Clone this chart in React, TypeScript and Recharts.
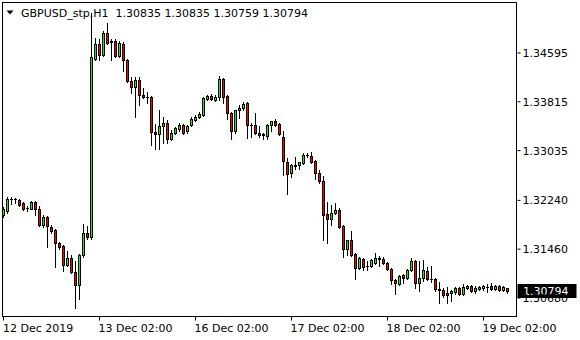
import React from "react";
import { ComposedChart, Bar, XAxis, YAxis, ReferenceLine } from "recharts";

const symbol = "GBPUSD_stp,H1";

// hourly candles
const open = [
  1.32006, 1.3207, 1.32266, 1.32258, 1.32246, 1.32198, 1.32118, 1.32102, 1.32214, 1.32102,
  1.31846, 1.31974, 1.31814, 1.31767, 1.31559, 1.31511, 1.31207, 1.31319, 1.31095, 1.30888,
  1.31367, 1.31719, 1.31655, 1.34499, 1.34739, 1.34563, 1.34915, 1.34787, 1.34787, 1.34547,
  1.34739, 1.34483, 1.34148, 1.34052, 1.34164, 1.33924, 1.33892, 1.33892, 1.33333, 1.33301,
  1.33428, 1.33476, 1.33221, 1.33317, 1.33381, 1.33444, 1.33349, 1.33444, 1.33524, 1.33572,
  1.33604, 1.3386, 1.33908, 1.33844, 1.33892, 1.3418, 1.33908, 1.33636, 1.33349, 1.33684,
  1.33716, 1.33796, 1.33452, 1.33444, 1.33317, 1.33293, 1.33269, 1.33444, 1.33508, 1.3346,
  1.33253, 1.32853, 1.32677, 1.32797, 1.32805, 1.32837, 1.32965, 1.32949, 1.32869, 1.32677,
  1.3255, 1.32022, 1.31942, 1.32038, 1.32086, 1.3183, 1.31463, 1.31607, 1.31383, 1.31159,
  1.31303, 1.31199, 1.31199, 1.31239, 1.31311, 1.31303, 1.31239, 1.31143, 1.30968, 1.30904,
  1.31047, 1.30999, 1.31127, 1.31271, 1.3092, 1.31007, 1.31111, 1.30984, 1.30991, 1.30816,
  1.30808, 1.3076, 1.3076, 1.30776, 1.3084, 1.30744, 1.3084, 1.30872, 1.30792, 1.30824,
  1.30832, 1.30856, 1.30872, 1.30824, 1.30864, 1.30808, 1.30835,
];
const high = [
  1.32134, 1.32294, 1.32294, 1.32278, 1.32262, 1.32214, 1.3215, 1.3223, 1.3223, 1.3215,
  1.32006, 1.3199, 1.31846, 1.31783, 1.31575, 1.31527, 1.31431, 1.31367, 1.31271, 1.31383,
  1.31862, 1.3183, 1.35234, 1.34835, 1.34819, 1.34947, 1.35074, 1.34819, 1.34819, 1.34787,
  1.34771, 1.34499, 1.34212, 1.34212, 1.34212, 1.34036, 1.33972, 1.33908, 1.3346, 1.33684,
  1.33572, 1.33524, 1.33365, 1.33412, 1.33476, 1.3346, 1.33444, 1.33572, 1.33604, 1.33652,
  1.33892, 1.33924, 1.3394, 1.33924, 1.34228, 1.34196, 1.33924, 1.33652, 1.33684, 1.33764,
  1.33812, 1.33812, 1.33476, 1.33636, 1.33428, 1.33317, 1.3346, 1.33508, 1.3354, 1.33476,
  1.33349, 1.32917, 1.32821, 1.32933, 1.32853, 1.32997, 1.32997, 1.33013, 1.32885, 1.32725,
  1.3263, 1.32214, 1.32166, 1.32198, 1.32118, 1.31846, 1.31607, 1.31751, 1.31399, 1.31335,
  1.31319, 1.31271, 1.31303, 1.31399, 1.31351, 1.31335, 1.31255, 1.31159, 1.30984, 1.31047,
  1.31063, 1.31143, 1.31311, 1.31287, 1.31271, 1.31287, 1.31175, 1.31191, 1.30999, 1.30936,
  1.3084, 1.30856, 1.30808, 1.30856, 1.30856, 1.30904, 1.30888, 1.30888, 1.30872, 1.30872,
  1.30888, 1.30904, 1.3092, 1.30888, 1.30888, 1.30872, 1.30835,
];
const low = [
  1.31974, 1.32038, 1.32182, 1.32198, 1.3215, 1.32086, 1.3207, 1.32094, 1.32006, 1.3183,
  1.31814, 1.31495, 1.31719, 1.31176, 1.31463, 1.31111, 1.31191, 1.31079, 1.3052, 1.30664,
  1.31335, 1.31623, 1.31623, 1.34483, 1.34483, 1.34547, 1.34739, 1.34483, 1.34531, 1.34531,
  1.34307, 1.34132, 1.33956, 1.33572, 1.33764, 1.33876, 1.33796, 1.33125, 1.33061, 1.33061,
  1.33157, 1.33157, 1.33205, 1.33301, 1.33349, 1.33301, 1.33317, 1.33428, 1.33508, 1.33556,
  1.33588, 1.33844, 1.33844, 1.33828, 1.33844, 1.33796, 1.3354, 1.33221, 1.33317, 1.33556,
  1.33684, 1.33237, 1.33253, 1.33301, 1.33253, 1.33221, 1.33221, 1.33349, 1.33428, 1.33285,
  1.32646, 1.32342, 1.32614, 1.32741, 1.32741, 1.32821, 1.32933, 1.32837, 1.32582, 1.32518,
  1.31607, 1.31559, 1.31846, 1.32022, 1.31798, 1.31335, 1.31367, 1.31351, 1.30984, 1.31143,
  1.31127, 1.31127, 1.31183, 1.31223, 1.31191, 1.31223, 1.31127, 1.30904, 1.30744, 1.30888,
  1.3092, 1.30984, 1.31111, 1.30832, 1.30786, 1.30952, 1.30968, 1.30936, 1.30792, 1.306,
  1.30696, 1.306, 1.30632, 1.30744, 1.30728, 1.30728, 1.30824, 1.30776, 1.3076, 1.30808,
  1.30808, 1.30776, 1.30808, 1.30808, 1.30792, 1.30792, 1.30759,
];
const close = [
  1.32102, 1.32262, 1.32262, 1.32262, 1.32166, 1.32102, 1.3211, 1.32214, 1.32102, 1.31846,
  1.31974, 1.3183, 1.3175, 1.31559, 1.31495, 1.31207, 1.31319, 1.31095, 1.30888, 1.31367,
  1.31719, 1.31655, 1.34531, 1.34739, 1.34563, 1.34915, 1.34755, 1.34771, 1.34547, 1.34755,
  1.34483, 1.34148, 1.34052, 1.34164, 1.33924, 1.33892, 1.33884, 1.33333, 1.33301, 1.33428,
  1.33476, 1.33221, 1.33317, 1.33397, 1.33444, 1.33317, 1.33428, 1.3354, 1.33572, 1.3362,
  1.33876, 1.33908, 1.3386, 1.33892, 1.3418, 1.33892, 1.33636, 1.33349, 1.33684, 1.33716,
  1.3378, 1.33444, 1.33444, 1.33317, 1.33285, 1.33285, 1.33444, 1.33508, 1.33444, 1.33301,
  1.32869, 1.32661, 1.32805, 1.32805, 1.32853, 1.32965, 1.32957, 1.32853, 1.32677, 1.3255,
  1.32006, 1.31942, 1.32038, 1.32086, 1.31814, 1.31463, 1.31607, 1.31367, 1.31159, 1.31319,
  1.31175, 1.31191, 1.31287, 1.31311, 1.31303, 1.31231, 1.31143, 1.30968, 1.30912, 1.31031,
  1.30999, 1.31127, 1.31271, 1.3092, 1.31007, 1.31127, 1.30984, 1.30991, 1.30816, 1.30808,
  1.3072, 1.3072, 1.30792, 1.3084, 1.30744, 1.30861, 1.30872, 1.30792, 1.30832, 1.30856,
  1.30864, 1.3085, 1.30824, 1.30872, 1.30808, 1.30856, 1.30794,
];

const priceTicks = [1.3068, 1.3146, 1.3224, 1.33035, 1.33815, 1.34595];
const dateTickBars = [0, 24, 48, 72, 96, 120];
const dateTickLabels = ["12 Dec 2019", "13 Dec 02:00", "16 Dec 02:00", "17 Dec 02:00", "18 Dec 02:00", "19 Dec 02:00"];

const candles = open.map((o, i) => ({ i, o, h: high[i], l: low[i], c: close[i] }));
const last = candles[candles.length - 1];

const BULL = "#00ff00";
const BEAR = "#ff0000";
const FONT = "'DejaVu Sans', Verdana, sans-serif";
const W = 580;
const H = 340;

const Candle = (props: any) => {
  const { x, y, width, height, payload } = props;
  if (!payload || height == null) return null;
  const cx = Math.floor(x + width / 2) + 0.5;
  const range = payload.h - payload.l || 1;
  const py = (p: number) => y + ((payload.h - p) / range) * height;
  const top = Math.round(py(Math.max(payload.o, payload.c)));
  const bot = Math.round(py(Math.min(payload.o, payload.c)));
  const up = payload.c > payload.o;
  return (
    <g>
      <line x1={cx} x2={cx} y1={Math.round(y)} y2={Math.round(y + height) + 1} stroke="#000" />
      {bot - top < 1 ? (
        <line x1={cx - 1.5} x2={cx + 1.5} y1={top + 0.5} y2={top + 0.5} stroke="#000" />
      ) : (
        <rect x={cx - 1} y={top + 0.5} width={2} height={bot - top} fill={up ? BULL : BEAR} stroke="#000" />
      )}
    </g>
  );
};

const DateTick = (props: any) => {
  const { x, y, payload } = props;
  const k = dateTickBars.indexOf(payload.value);
  if (k < 0) return <g />;
  return (
    <text x={Math.max(x - 1, 3)} y={y + 9} fontFamily={FONT} fontSize={11} fill="#000">
      {dateTickLabels[k]}
    </text>
  );
};

const PriceTick = (props: any) => {
  const { x, y, payload } = props;
  return (
    <text x={x} y={y + 4} fontFamily={FONT} fontSize={11} fill="#000">
      {Number(payload.value).toFixed(5)}
    </text>
  );
};

const PriceTag = (props: any) => {
  const vb = props.viewBox;
  if (!vb) return null;
  const x0 = vb.x + vb.width;
  const cy = Math.round(vb.y);
  return (
    <g>
      <rect x={x0} y={cy - 7} width={59} height={14} fill="#000" />
      <text x={x0 + 5.5} y={cy + 4} fontFamily={FONT} fontSize={11} fill="#fff">
        {last.c.toFixed(5)}
      </text>
    </g>
  );
};

export default function App() {
  return (
    <div style={{ position: "absolute", left: 0, top: 0, width: W, height: H, background: "#fff" }}>
      <ComposedChart
        width={W}
        height={H}
        data={candles}
        margin={{ top: 2.5, right: 0, bottom: 0, left: 1.5 }}
        barCategoryGap={0}
      >
        <XAxis
          dataKey="i"
          type="category"
          ticks={dateTickBars}
          interval={0}
          height={23.5}
          padding={{ left: 0, right: 8 }}
          axisLine={false}
          tickLine={{ stroke: "#000" }}
          tickSize={4}
          tick={<DateTick />}
        />
        <YAxis
          orientation="right"
          type="number"
          domain={[1.30384, 1.35402]}
          allowDataOverflow
          ticks={priceTicks}
          interval={0}
          width={62.5}
          axisLine={false}
          tickLine={{ stroke: "#000" }}
          tickSize={3}
          tick={<PriceTick />}
        />
        <Bar
          dataKey={(d: any) => [d.l, d.h]}
          shape={<Candle />}
          isAnimationActive={false}
        />
        <ReferenceLine y={last.c} stroke="none" label={<PriceTag />} />
      </ComposedChart>
      <div
        style={{
          position: "absolute",
          left: 2,
          top: 2,
          width: 515,
          height: 315,
          boxSizing: "border-box",
          border: "1px solid #000",
          pointerEvents: "none",
        }}
      />
      <svg width={W} height={24} style={{ position: "absolute", left: 0, top: 0, pointerEvents: "none" }}>
        <polygon points="6.5,10.5 13.5,10.5 10,14.5" fill="#000" />
        <text x={21} y={17} fontFamily={FONT} fontSize={11} fill="#000" style={{ whiteSpace: "pre" }}>
          {`${symbol}  ${last.o.toFixed(5)} ${last.h.toFixed(5)} ${last.l.toFixed(5)} ${last.c.toFixed(5)}`}
        </text>
      </svg>
    </div>
  );
}
